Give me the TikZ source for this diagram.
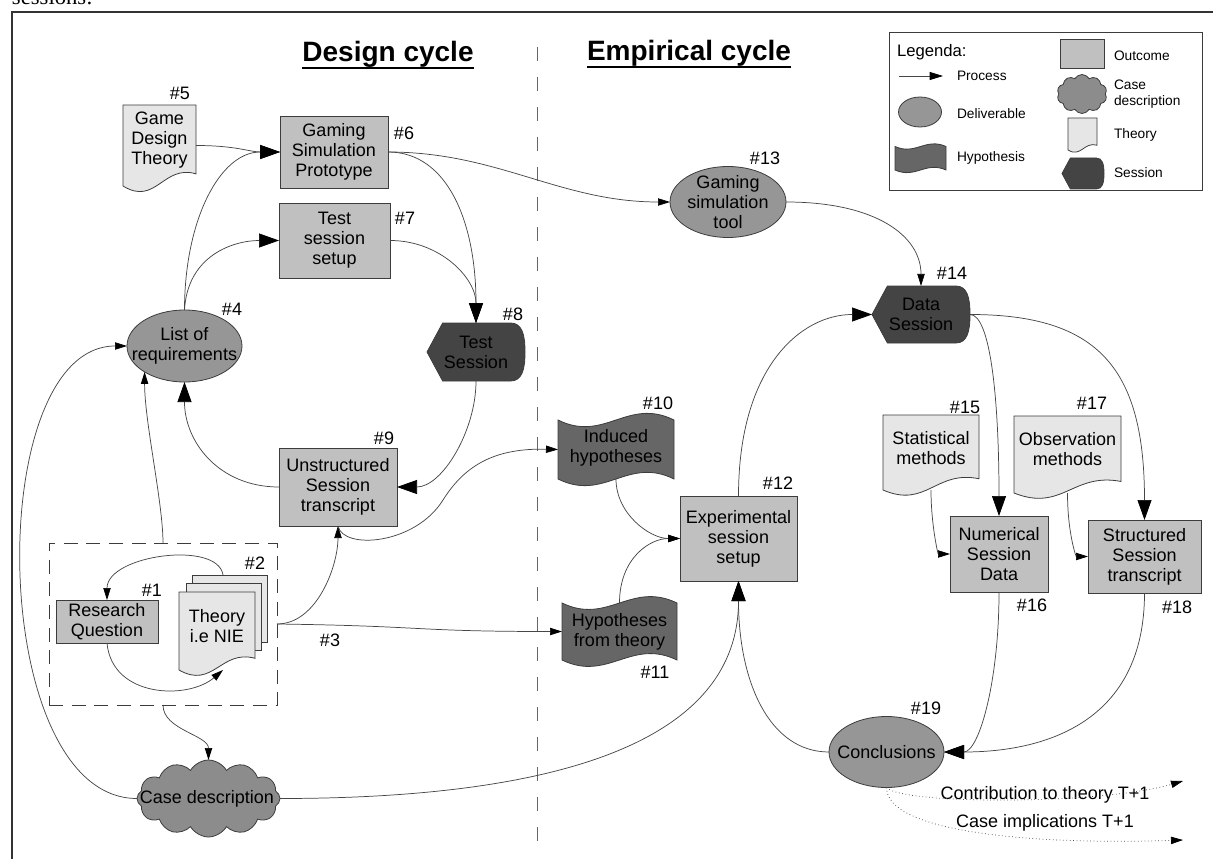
\documentclass[tikz,border=0pt]{standalone}
\usepackage{fontspec}
\setmainfont{Liberation Sans}
\newfontfamily\serifface{Liberation Serif}
\usetikzlibrary{arrows.meta,shapes.geometric,shapes.symbols,fit}
\definecolor{outc}{RGB}{192,192,192}
\definecolor{delivc}{RGB}{150,150,150}
\definecolor{theoc}{RGB}{230,230,230}
\definecolor{hypc}{RGB}{102,102,102}
\definecolor{sessc}{RGB}{68,68,68}
\definecolor{cloudc}{RGB}{140,140,140}
\definecolor{edgec}{RGB}{60,60,60}
\definecolor{linec}{RGB}{70,70,70}
\newcommand\mainfs{\fontsize{13.5}{15}\selectfont}
\newcommand\legfs{\fontsize{10.3}{12}\selectfont}
\tikzset{
 every node/.style={inner sep=0pt, outer sep=0pt, align=center, font=\mainfs},
 shp/.style={draw=edgec, line width=0.6pt},
 outcome/.style={shp, rectangle, fill=outc},
 deliv/.style={shp, ellipse, fill=delivc},
 docst/.style={shp, fill=theoc},
 hypst/.style={shp, fill=hypc},
 sessst/.style={shp, fill=sessc},
 cloudst/.style={shp, cloud, cloud puffs=12, cloud puff arc=120, cloud ignores aspect, fill=cloudc},
 areast/.style={inner sep=0pt},
 conn/.style={draw=linec, line width=0.55pt},
 bigar/.style={conn, -{Triangle[length=15pt,width=10.5pt,color=black]}},
 smallar/.style={conn, -{Triangle[length=9pt,width=5.5pt,color=black]}},
 dotc/.style={smallar, dotted},
 ttl/.style={font=\fontsize{21}{24}\selectfont\bfseries},
 uline/.style={line width=1.4pt},
 dashbox/.style={draw=edgec, line width=0.6pt, dash pattern=on 10.5pt off 6.5pt},
 vdash/.style={draw=black!60, line width=0.75pt, dash pattern=on 10.5pt off 12pt},
 framest/.style={draw=black!80, line width=0.8pt},
 legtxt/.style={font=\legfs, anchor=west, align=left},
}
% L T R B
\newcommand\DocShape[4]{\draw[docst] (#1,#2) -- (#3,#2) -- (#3,{#4-0.15*(#4-#2)}) .. controls ({#3-0.45*(#3-#1)},{#4-0.27*(#4-#2)}) and ({#1+0.45*(#3-#1)},{#4+0.25*(#4-#2)}) .. (#1,#4) -- cycle;}
\newcommand\WaveShape[4]{\draw[hypst] (#1,#2) .. controls ({#1+0.4*(#3-#1)},{#2+0.39*(#4-#2)}) and ({#1+0.6*(#3-#1)},{#2-0.39*(#4-#2)}) .. (#3,#2) -- (#3,#4) .. controls ({#1+0.6*(#3-#1)},{#4-0.39*(#4-#2)}) and ({#1+0.4*(#3-#1)},{#4+0.39*(#4-#2)}) .. (#1,#4) -- cycle;}
\newcommand\SessShape[4]{\draw[sessst] (#1,{(#2+#4)/2}) -- ({#1+0.27*(#4-#2)},#2) -- ({#3-0.25*(#4-#2)},#2) .. controls ({#3-0.05*(#4-#2)},#2) and (#3,{#2+0.2*(#4-#2)}) .. (#3,{(#2+#4)/2}) .. controls (#3,{#4-0.2*(#4-#2)}) and ({#3-0.05*(#4-#2)},#4) .. ({#3-0.25*(#4-#2)},#4) -- ({#1+0.27*(#4-#2)},#4) -- cycle;}
\newcommand\Rect[6]{\node[outcome, minimum width={(#4-#2)*0.75pt}, minimum height={(#5-#3)*0.75pt}] (#1) at ({(#2+#4)/2},{(#3+#5)/2}) {#6};}
\newcommand\Area[5]{\node[areast, fit={(#2,#3) (#4,#5)}] (#1) {};}
\begin{document}
\begin{tikzpicture}[x=0.75pt,y=-0.75pt]
\useasboundingbox (0,0) rectangle (1213,859);
\begin{scope}
\clip (0,0) rectangle (1213,859);
\node[anchor=base west, font=\serifface\fontsize{17}{17}\selectfont] (tsess) at (12,5) {sessions:};
\end{scope}
\draw[framest] (12,859) -- (12,12) -- (1213,12);
\draw[vdash] (537,47) -- (537,852);
% titles
\node[ttl, anchor=base] (tdc) at (388,62) {Design cycle};
\draw[uline] (tdc.south west) -- (tdc.south east);
\node[ttl, anchor=base] (tec) at (689,61) {Empirical cycle};
\draw[uline] (tec.south west) -- (tec.south east);
% legend
\node[draw=edgec, line width=0.7pt, fit={(889,32) (1202,190)}] (leg) {};
\node[anchor=base west, font=\fontsize{12.5}{14}\selectfont] (lgt) at (897,57) {Legenda:};
\coordinate (lpa) at (899,76); \coordinate (lpb) at (943,76);
\draw[conn, -{Triangle[length=10pt,width=6pt,color=black]}] (lpa) -- (lpb);
\node[legtxt] (lgp) at (957,76) {Process};
\node[deliv, minimum width={43*0.75pt}, minimum height={30*0.75pt}] (lgd) at (920,112) {};
\node[legtxt] (lgdt) at (957,114) {Deliverable};
\WaveShape{895}{146.5}{946}{170}
\node[legtxt] (lght) at (957,158) {Hypothesis};
\Rect{lgo}{1060}{39}{1104}{68}{}
\node[legtxt] (lgot) at (1114,56) {Outcome};
\node[cloudst, cloud puffs=10, minimum width={50*0.75pt}, minimum height={39*0.75pt}] (lgc) at (1082,94) {};
\node[legtxt] (lgct) at (1114,94.5) {Case\\description};
\DocShape{1068}{118}{1097}{150}
\node[legtxt] (lgtt) at (1114,135) {Theory};
\SessShape{1062}{158}{1104}{189}
\node[legtxt] (lgst) at (1114,173) {Session};
% design cycle
\DocShape{123}{105}{196}{186}
\Area{n5}{123}{105}{196}{186}
\node (t5) at (159.5,140) {Game\\Design\\Theory};
\node (h5) at (180,93) {\#5};
\Rect{n6}{280}{116}{388}{188}{Gaming\\Simulation\\Prototype}
\node (h6) at (404,133) {\#6};
\Rect{n7}{279}{203}{390}{278}{Test\\session\\setup}
\node (h7) at (405,218) {\#7};
\node[deliv, minimum width={115*0.75pt}, minimum height={72*0.75pt}] (n4) at (184.5,346) {};
\node (t4) at (184.5,346) {List of\\requirements};
\node (h4) at (232,309) {\#4};
\SessShape{427}{323}{525}{381}
\Area{n8}{427}{323}{525}{381}
\node (t8) at (476,352) {Test\\Session};
\node (h8) at (513,314) {\#8};
\Rect{n9}{279}{448}{397}{526}{Unstructured\\Session\\transcript}
\node (h9) at (384,438) {\#9};
\node[dashbox, fit={(49,543) (277,705)}] (db) {};
\node (h2) at (255,563) {\#2};
\Rect{n1}{56}{600}{158}{643}{Research\\Question}
\node (h1) at (152,590) {\#1};
\draw[docst] (192,575) rectangle (267,642);
\draw[docst] (186,583) rectangle (261,650);
\DocShape{179}{592}{255}{670}
\Area{n2}{179}{575}{267}{670}
\node (t2) at (217,626.5) {Theory\\i.e NIE};
\node (h3) at (330,640) {\#3};
\node[cloudst, minimum width={143*0.75pt}, minimum height={77*0.75pt}] (cd) at (208.5,798.5) {};
\node (tcd) at (207,799) {Case description};
% empirical cycle
\WaveShape{558}{420}{674}{479}
\Area{n10}{558}{420}{674}{479}
\node (t10) at (616,448) {Induced\\hypotheses};
\node (h10) at (658,403) {\#10};
\WaveShape{562}{603}{677}{660}
\Area{n11}{562}{603}{677}{660}
\node (t11) at (619.5,632) {Hypotheses\\from theory};
\node (h11) at (655,672) {\#11};
\Rect{n12}{680}{496}{797}{581}{Experimental\\session\\setup}
\node (h12) at (778,483) {\#12};
\node[deliv, minimum width={116*0.75pt}, minimum height={71*0.75pt}] (n13) at (728,202) {};
\node (t13) at (728,202) {Gaming\\simulation\\tool};
\node (h13) at (765,158) {\#13};
\SessShape{872}{286}{970}{343}
\Area{n14}{872}{286}{970}{343}
\node (t14) at (921,314.5) {Data\\Session};
\node (h14) at (952,273) {\#14};
\DocShape{883}{415}{979}{490}
\Area{n15}{883}{415}{979}{490}
\node (t15) at (931,448) {Statistical\\methods};
\node (h15) at (965,407) {\#15};
\DocShape{1014}{416}{1121}{493}
\Area{n17}{1014}{416}{1121}{493}
\node (t17) at (1067.5,449) {Observation\\methods};
\node (h17) at (1092,403) {\#17};
\Rect{n16}{950}{516}{1048}{592}{Numerical\\Session\\Data}
\node (h16) at (1032,605) {\#16};
\Rect{n18}{1088}{520}{1201}{593}{Structured\\Session\\transcript}
\node (h18) at (1177,607) {\#18};
\node[deliv, minimum width={115*0.75pt}, minimum height={71*0.75pt}] (n19) at (886.5,752) {};
\node (t19) at (886.5,752) {Conclusions};
\node (h19) at (926,708) {\#19};
\node (lct) at (1045,795) {Contribution to theory T+1};
\node (lci) at (1045,823) {Case implications T+1};
\coordinate (e1) at (1183,781);
\coordinate (e2) at (1183,840);
% connectors
\draw[bigar] (n5.east) .. controls +(40,0) and +(-30,0) .. (n6.west);
\draw[bigar] (n4.north) .. controls +(0,-90) and +(-60,0) .. (n6.west);
\draw[bigar] (n4.north) .. controls +(3,-55) and +(-45,0) .. (n7.west);
\draw[smallar] (n6.east) .. controls +(110,0) and +(-110,0) .. (n13.west);
\draw[bigar] (n6.east) .. controls +(60,0) and +(0,-100) .. (n8.north);
\draw[bigar] (n7.east) .. controls +(50,0) and +(0,-45) .. (n8.north);
\draw[bigar] (n8.south) .. controls +(0,50) and +(45,0) .. (n9.east);
\draw[bigar] (n9.west) .. controls +(-60,0) and +(0,60) .. (n4.south);
\draw[smallar] (db.north) .. controls +(0,-40) and +(0,50) .. (n4.213);
\draw[smallar] (cd.west) .. controls +(-150,0) and +(-145,0) .. (n4.west);
\draw[smallar] (db.south) .. controls +(0,25) and +(0,-25) .. (cd.north);
\draw[smallar] (n2.north) .. controls +(-5,-35) and +(0,-45) .. (n1.north);
\draw[smallar] (n1.south) .. controls +(5,55) and +(-35,30) .. (n2.south);
\draw[smallar] (db.east) .. controls +(150,2) and +(-150,0) .. (n11.west);
\draw[smallar] (db.east) .. controls +(40,0) and +(0,40) .. (n9.south);
\draw[smallar] (n9.south) .. controls (343,550) and (415,545) .. (443,500) .. controls (465,465) and (495,448) .. (n10.west);
\draw[smallar] (n10.south) .. controls +(0,35) and +(-30,0) .. (n12.west);
\draw[smallar] (n11.north) .. controls +(0,-45) and +(-30,0) .. (n12.west);
\draw[bigar] (cd.east) .. controls +(280,0) and +(0,160) .. (n12.south);
\draw[bigar] (n19.west) .. controls +(-60,0) and +(0,100) .. (n12.south);
\draw[bigar] (n12.north) .. controls +(0,-130) and +(-70,0) .. (n14.west);
\draw[smallar] (n13.east) .. controls +(90,0) and +(0,-50) .. (n14.north);
\draw[bigar] (n14.east) .. controls +(20,0) and +(0,-120) .. (n16.north);
\draw[bigar] (n14.east) .. controls +(130,0) and +(0,-150) .. (n18.north);
\draw[smallar] (n15.south) .. controls +(0,35) and +(-12,0) .. (n16.west);
\draw[smallar] (n17.south) .. controls +(0,40) and +(-12,0) .. (n18.west);
\draw[bigar] (n16.south) .. controls +(0,90) and +(35,0) .. (n19.east);
\draw[bigar] (n18.south) .. controls +(0,130) and +(100,0) .. (n19.east);
\draw[dotc] (n19.south) .. controls +(14,17) and +(-83,24) .. (e1);
\draw[dotc] (n19.south) .. controls +(0,45) and +(-150,5) .. (e2);
\end{tikzpicture}
\end{document}
